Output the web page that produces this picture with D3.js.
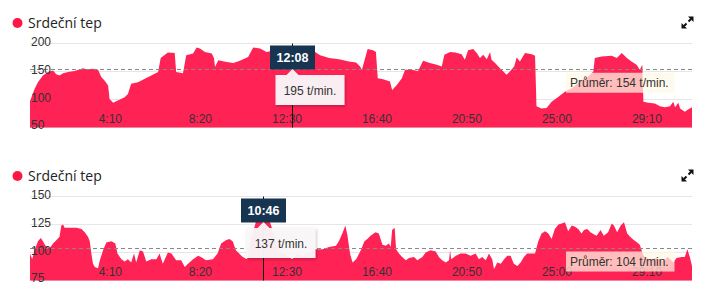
<!DOCTYPE html>
<html>
<head>
<meta charset="utf-8">
<script src="https://cdn.jsdelivr.net/npm/d3@7"></script>
<style>
  body { margin: 0; background: #fff; }
  svg { display: block; font-family: "Liberation Sans", Arial, sans-serif; }
</style>
</head>
<body>
<svg id="chart" width="715" height="300"></svg>
<script>
// heart rate, seconds from start -> beats per minute
var hr1Seconds = [0,13,22,36,50,64,73,82,92,106,124,147,156,180,189,198,207,217,221,231,244,263,272,281,300,319,337,356,363,383,402,406,425,434,453,463,472,486,505,511,514,523,546,565,583,606,620,639,657,681,708,728,750,778,792,806,831,858,886,906,917,922,938,953,961,966,981,1000,1006,1019,1033,1042,1060,1078,1092,1111,1130,1144,1151,1167,1181,1199,1208,1217,1231,1241,1250,1259,1269,1278,1282,1292,1301,1310,1324,1333,1345,1352,1361,1375,1394,1403,1407,1421,1435,1449,1468,1486,1505,1533,1551,1565,1569,1588,1616,1630,1644,1658,1671,1685,1694,1701,1704,1717,1736,1750,1764,1778,1787,1792,1801,1806,1819,1828,1839];
var hr1Bpm = [97,119,131,143,149,152,145,143,147,149,151,156,154,155,153,140,134,125,101,94,98,104,110,128,131,137,143,149,174,184,183,149,147,179,182,193,191,185,182,174,158,170,167,165,169,176,193,191,185,188,192,195,190,186,185,179,174,172,168,166,159,153,190,188,185,138,136,132,117,126,138,153,153,151,169,165,162,159,180,185,184,181,171,188,190,183,174,180,172,185,171,165,159,153,144,150,159,175,168,183,181,178,88,84,85,96,105,114,120,135,141,150,174,177,178,174,183,174,168,162,153,162,96,94,93,88,86,88,96,86,94,84,78,82,86];

var hr2Seconds = [0,6,13,22,30,36,45,55,64,73,82,87,92,96,110,129,143,152,161,166,170,175,180,189,194,203,212,226,237,243,254,263,272,281,289,295,305,314,323,337,351,360,369,383,393,406,420,430,439,453,467,475,489,508,521,531,544,554,563,572,581,591,603,617,628,647,667,681,694,711,728,744,761,778,794,813,831,850,858,869,876,882,889,896,906,919,929,937,946,960,969,974,979,988,997,1002,1006,1013,1017,1025,1034,1044,1053,1067,1076,1090,1099,1113,1127,1136,1145,1155,1164,1167,1170,1183,1196,1210,1224,1238,1247,1256,1266,1275,1284,1289,1298,1308,1317,1326,1335,1344,1354,1363,1372,1381,1391,1403,1412,1421,1431,1440,1449,1458,1468,1477,1486,1495,1505,1514,1523,1532,1539,1548,1557,1567,1574,1585,1594,1606,1616,1622,1631,1641,1650,1659,1667,1678,1687,1694,1699,1704,1722,1739,1756,1772,1787,1796,1810,1819,1826,1833,1839];
var hr2Bpm = [99,94,102,110,113,110,105,104,108,111,114,124,125,122,122,122,121,118,114,110,100,90,87,86,93,102,109,110,108,99,94,92,94,91,99,91,102,101,92,94,94,99,90,100,99,93,93,87,90,94,97,96,93,94,99,108,111,112,110,102,99,96,94,115,128,137,127,112,100,98,94,99,96,100,103,103,105,106,110,118,124,115,99,91,94,102,110,112,115,118,117,112,107,106,108,105,120,122,103,99,96,93,95,96,93,96,100,102,101,96,93,91,93,102,94,97,99,99,97,99,94,96,93,99,94,85,91,90,94,97,97,90,88,91,96,99,99,99,110,117,119,117,112,121,125,126,127,119,124,123,121,117,120,121,118,116,115,120,115,118,126,124,118,124,127,117,114,111,109,107,102,97,93,95,92,96,91,95,96,96,103,96,88];

var tickSeconds = [250, 500, 750, 1000, 1250, 1500, 1750];
var yTicks1 = [50, 100, 150, 200];
var yTicks2 = [75, 100, 125, 150];
var averages = [154, 104];
var hoverSeconds = [728, 646];
var hoverBpm = [195, 137];
var seriesName = "Srdeční tep";

var svg = d3.select("#chart");
var red = "#ff2255";
var x = d3.scaleLinear().domain([0, 1839]).range([30, 692]);

var defs = svg.append("defs");
defs.append("filter").attr("id", "shadow")
    .attr("x", "-20%").attr("y", "-20%").attr("width", "150%").attr("height", "160%")
  .append("feDropShadow")
    .attr("dx", 1).attr("dy", 1.5).attr("stdDeviation", 1.5)
    .attr("flood-color", "#000").attr("flood-opacity", 0.25);

var charts = [
  {off: 0, times: hr1Seconds, vals: hr1Bpm, ticks: yTicks1, avg: averages[0], hs: hoverSeconds[0], hb: hoverBpm[0]},
  {off: 153, times: hr2Seconds, vals: hr2Bpm, ticks: yTicks2, avg: averages[1], hs: hoverSeconds[1], hb: hoverBpm[1]}
];

function fmt(s) {
  return Math.floor(s / 60) + ":" + d3.format("02")(s % 60);
}

charts.forEach(function (c) {
  var g = svg.append("g").attr("transform", "translate(0," + c.off + ")");
  var y = d3.scaleLinear()
      .domain([c.ticks[0], c.ticks[c.ticks.length - 1]])
      .range([127.5, 43.5]);
  var data = c.times.map(function (t, i) { return [t, c.vals[i]]; });

  // legend
  g.append("circle").attr("cx", 17.5).attr("cy", 23).attr("r", 5).attr("fill", "#ff1744");
  g.append("text").attr("x", 28).attr("y", 28)
      .style("font-family", "'Open Sans', sans-serif").style("font-size", "14px")
      .attr("fill", "#222").text(seriesName);

  // expand icon
  var ic = g.append("g").attr("transform", "translate(687.5,22.5)");
  ic.append("path").attr("d", "M6,-6L6,-0.5L0.5,-6Z M-6,6L-6,0.5L-0.5,6Z").attr("fill", "#111");
  ic.append("path").attr("d", "M3.5,-3.5L1,-1 M-3.5,3.5L-1,1").attr("stroke", "#111").attr("stroke-width", 2);

  // grid
  g.selectAll(".grid").data(c.ticks).enter().append("line")
      .attr("x1", 30).attr("x2", 692)
      .attr("y1", function (d) { return y(d); }).attr("y2", function (d) { return y(d); })
      .attr("stroke", "#e6e6e6");

  var area = d3.area()
      .x(function (d) { return x(d[0]); })
      .y0(y(c.ticks[0]))
      .y1(function (d) { return y(d[1]); });
  g.append("path").datum(data).attr("d", area).attr("fill", red);

  // average line
  var ay = Math.round(y(c.avg)) + 0.5;
  g.append("line").attr("x1", 30).attr("x2", 692).attr("y1", ay).attr("y2", ay)
      .attr("stroke", "#888").attr("stroke-dasharray", "4,3");

  // y labels
  var yAxis = g.append("g").attr("transform", "translate(31,0)")
      .call(d3.axisRight(y).tickValues(c.ticks).tickSize(0).tickPadding(0));
  yAxis.select(".domain").remove();
  yAxis.selectAll("text")
      .attr("font-size", 12).attr("font-family", "'Liberation Sans', Arial, sans-serif")
      .attr("fill", "#333")
      .attr("y", function (d, i) { return i === 0 ? -3 : -1.5; });

  // x labels
  var xAxis = g.append("g").attr("transform", "translate(0,123)")
      .call(d3.axisBottom(x).tickValues(tickSeconds).tickFormat(fmt).tickSize(0));
  xAxis.select(".domain").remove();
  xAxis.selectAll("text")
      .attr("font-size", 12).attr("font-family", "'Liberation Sans', Arial, sans-serif")
      .attr("fill", "#333").attr("text-anchor", "end")
      .attr("x", 1.5).attr("y", 0).attr("dy", 0);

  // average label
  var lb = g.append("g").attr("transform", "translate(566," + (y(c.avg) + 3.5) + ")");
  lb.append("rect").attr("width", 108.5).attr("height", 20).attr("fill", "rgba(255,250,228,0.72)");
  lb.append("text").attr("x", 4).attr("y", 14.5).attr("font-size", 12).attr("fill", "#333")
      .text("Průměr: " + c.avg + " t/min.");

  // hover marker
  var lx = Math.round(x(c.hs)) + 0.5;
  g.append("line").attr("x1", lx).attr("x2", lx).attr("y1", 43.5).attr("y2", 127.5)
      .attr("stroke", "#111");
  g.append("rect").attr("x", lx - 22.5).attr("y", 45.5).attr("width", 45).attr("height", 24)
      .attr("fill", "#173451");
  g.append("text").attr("x", lx).attr("y", 62).attr("text-anchor", "middle")
      .attr("font-size", 12.5).attr("font-weight", "bold").attr("fill", "#fff")
      .text(fmt(c.hs));

  var tip = g.append("g").attr("filter", "url(#shadow)");
  tip.append("path")
      .attr("d", "M" + (lx - 17) + ",75 H" + (lx - 6) + " L" + lx + ",69 L" + (lx + 6) + ",75 H" + (lx + 52) + " V105 H" + (lx - 17) + " Z")
      .attr("fill", "rgba(250,248,249,0.95)");
  g.append("text").attr("x", lx + 17.5).attr("y", 95).attr("text-anchor", "middle")
      .attr("font-size", 12).attr("fill", "#333")
      .text(c.hb + " t/min.");
});
</script>
</body>
</html>
